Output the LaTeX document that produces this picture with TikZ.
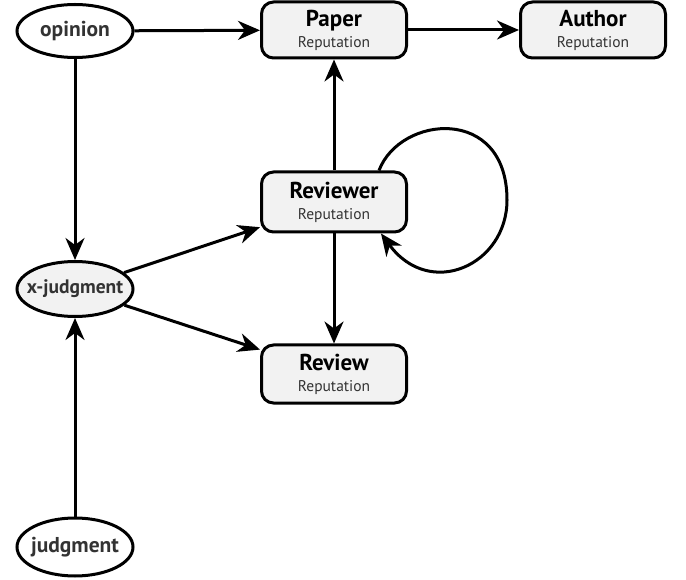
\documentclass[tikz,border=0pt]{standalone}
\usepackage{fontspec}
\setmainfont{PT Sans}
\usetikzlibrary{arrows.meta,shapes.geometric,calc}
\definecolor{boxfill}{HTML}{F2F2F2}
\definecolor{txtgray}{HTML}{333333}
\tikzset{
  repbox/.style={draw, line width=3pt, rounded corners=12pt, fill=boxfill,
    minimum width=145pt, minimum height=57pt, inner sep=0pt, align=center,
    font=\fontsize{23}{21}\selectfont\bfseries},
  ellnode/.style={draw, ellipse, line width=3pt, minimum width=116pt,
    minimum height=53pt, inner sep=0pt, font=\fontsize{21.5}{24}\selectfont\bfseries, text=txtgray},
  conn/.style={line width=3pt, -{Stealth[length=22pt,width=19pt,inset=7pt]}},
}
\newcommand{\reptitle}[1]{#1\\{\fontsize{15.5}{21}\selectfont\mdseries\color{txtgray}Reputation}}
\newcommand{\elltext}[1]{\makebox[0pt]{#1}}
\begin{document}
\begin{tikzpicture}[x=1pt,y=-1pt]
\useasboundingbox (0,0) rectangle (686,580);
\node[ellnode] (op) at (75,31) {\elltext{opinion}};
\node[ellnode, fill=boxfill, minimum height=55pt, font=\fontsize{19.5}{24}\selectfont\bfseries] (xj) at (75,289) {\elltext{x-judgment}};
\node[ellnode, minimum height=58pt] (jd) at (75,547) {\elltext{judgment}};
\node[repbox, minimum height=56pt] (paper) at (334,30) {\reptitle{Paper}};
\node[repbox, minimum height=56pt] (author) at (593,30) {\reptitle{Author}};
\node[repbox, minimum height=60pt] (rev) at (334,202) {\reptitle{Reviewer}};
\node[repbox, minimum height=58pt] (review) at (334,374) {\reptitle{Review}};
\draw[conn] (op) -- (paper);
\draw[conn] (paper) -- (author);
\draw[conn] (rev) -- (paper);
\draw[conn] (rev) -- (review);
\draw[conn] (op) -- (xj);
\draw[conn] (jd) -- (xj);
\draw[conn] (xj) -- ($(rev.west)!0.8!(rev.south west)$);
\draw[conn] (xj) -- ($(review.west)!0.8!(review.north west)$);
\draw[conn] ($(rev.north east)+(-29,0)$) .. controls (400,115) and (507,105) .. (507,200)
  .. controls (507,265) and (430,300) .. ($(rev.south east)+(-27,0)$);
\end{tikzpicture}
\end{document}
